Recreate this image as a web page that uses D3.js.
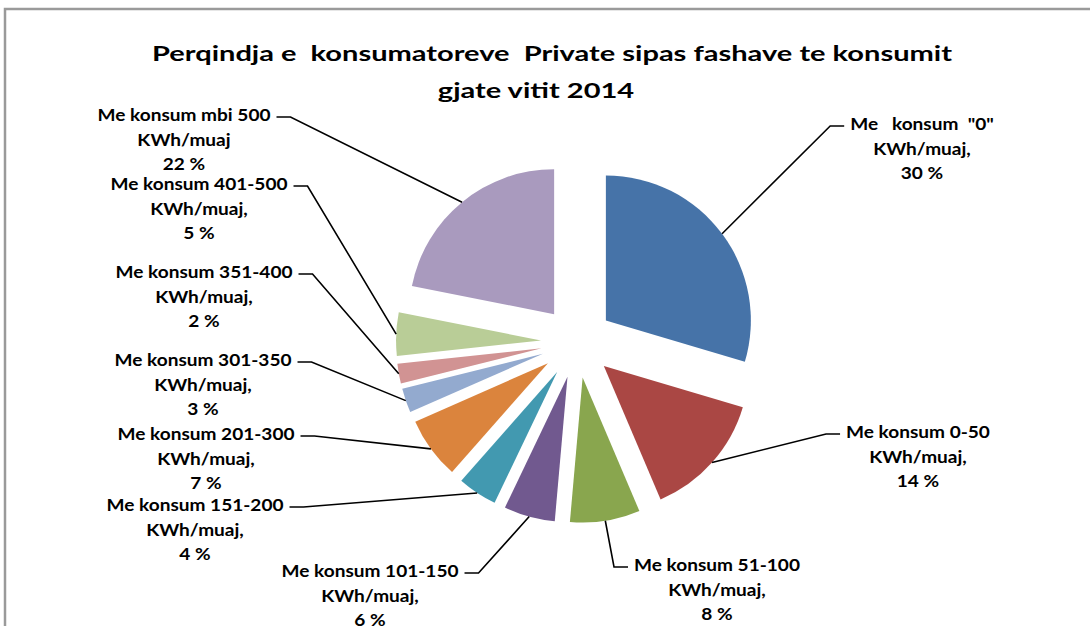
<!DOCTYPE html>
<html lang="sq">
<head>
<meta charset="UTF-8">
<title>Perqindja e konsumatoreve Private</title>
<script src="https://d3js.org/d3.v7.min.js"></script>
<style>
    body { margin: 0; background: #fff; }
    text { font-family: Lato, "Open Sans", sans-serif; font-weight: 700; fill: #000; white-space: pre; }
    .title { font-size: 21px; text-anchor: middle; }
    .label { font-size: 17px; text-anchor: middle; }
    .leader { fill: none; stroke: #000; stroke-width: 1.6px; }
</style>
</head>
<body>
<svg width="1090" height="626"></svg>
<script>
// slice names, values (%) and colours
const categories = [
    ["Me   konsum  \"0\"", "KWh/muaj,"],
    ["Me konsum 0-50", "KWh/muaj,"],
    ["Me konsum 51-100", "KWh/muaj,"],
    ["Me konsum 101-150", "KWh/muaj,"],
    ["Me konsum 151-200", "KWh/muaj,"],
    ["Me konsum 201-300", "KWh/muaj,"],
    ["Me konsum 301-350", "KWh/muaj,"],
    ["Me konsum 351-400", "KWh/muaj,"],
    ["Me konsum 401-500", "KWh/muaj,"],
    ["Me konsum mbi 500", "KWh/muaj"]
];
const values = [29.6, 14.0, 7.8, 5.7, 4.4, 6.9, 2.7, 2.2, 4.8, 21.9];
const colors = ["#4673A8", "#AA4744", "#89A64E", "#71598F", "#4299B0",
                "#DB843D", "#93AACF", "#D19393", "#B9CD97", "#A99ABE"];
const titleLines = ["Perqindja e  konsumatoreve  Private sipas fashave te konsumit", "gjate vitit 2014"];

// label placement: centre x, first line centre y, side the leader comes in from
const labelPos = [
    [922, 124, "left"], [918, 432, "left"], [717, 565, "left"], [370, 571, "right"],
    [195, 505, "right"], [206, 434, "right"], [203, 360, "right"], [204, 272, "right"],
    [199, 184, "right"], [184, 115, "right"]
];

const svg = d3.select("svg");
const cx = 577, cy = 342, radius = 145, explode = 36, lineH = 24.5;

svg.append("rect")
    .attr("x", 5).attr("y", 9)
    .attr("width", 1200).attr("height", 800)
    .attr("fill", "#fff")
    .attr("stroke", "#9a9a9a")
    .attr("stroke-width", 2.5);

// stretch text a bit wider, like the original
function stretch(sel, k) {
    sel.each(function () {
        const w = this.getComputedTextLength();
        d3.select(this).attr("textLength", w * k).attr("lengthAdjust", "spacingAndGlyphs");
    });
}

const title = svg.append("g");
title.selectAll("text")
    .data(titleLines)
    .enter().append("text")
    .attr("class", "title")
    .attr("x", (d, i) => i === 0 ? 552 : 536)
    .attr("y", (d, i) => 61 + i * 37)
    .text(d => d);
const tw = title.select("text").node().getComputedTextLength();
stretch(title.selectAll("text"), 800 / tw);

const pie = d3.pie().sort(null).value(d => d)(values);
const arc = d3.arc().innerRadius(0).outerRadius(radius);

const dir = a => [Math.sin(a), -Math.cos(a)];

svg.append("g")
    .selectAll("path")
    .data(pie)
    .enter().append("path")
    .attr("d", arc)
    .attr("fill", (d, i) => colors[i])
    .attr("transform", d => {
        const [ux, uy] = dir((d.startAngle + d.endAngle) / 2);
        return `translate(${cx + ux * explode},${cy + uy * explode})`;
    });

// labels
const labels = svg.append("g");
const lab = labels.selectAll("text")
    .data(pie)
    .enter().append("text")
    .attr("class", "label")
    .attr("x", (d, i) => labelPos[i][0])
    .attr("y", (d, i) => labelPos[i][1] + 6);

lab.each(function (d, i) {
    const t = d3.select(this);
    const lines = [categories[i][0], categories[i][1], Math.round(values[i]) + " %"];
    lines.forEach((s, j) => {
        t.append("tspan")
            .attr("x", labelPos[i][0])
            .attr("y", labelPos[i][1] + 6 + j * lineH)
            .text(s);
    });
});

const refW = lab.filter((d, i) => i === 9).select("tspan").node().getComputedTextLength();
const k = 173 / refW;
stretch(lab.selectAll("tspan"), k);

// leader lines
labels.selectAll("polyline")
    .data(pie)
    .enter().append("polyline")
    .attr("class", "leader")
    .attr("points", (d, i) => {
        const [lx, ly, side] = labelPos[i];
        const w = +lab.filter((e, j) => j === i).select("tspan").attr("textLength");
        const [ux, uy] = dir((d.startAngle + d.endAngle) / 2);
        const px = cx + ux * (explode + radius), py = cy + uy * (explode + radius);
        const y = ly + 2;
        const edge = side === "left" ? lx - w / 2 - 6 : lx + w / 2 + 6;
        const elbow = side === "left" ? edge - 14 : edge + 14;
        return [[px, py], [elbow, y], [edge, y]].map(p => p.join(",")).join(" ");
    });
</script>
</body>
</html>
